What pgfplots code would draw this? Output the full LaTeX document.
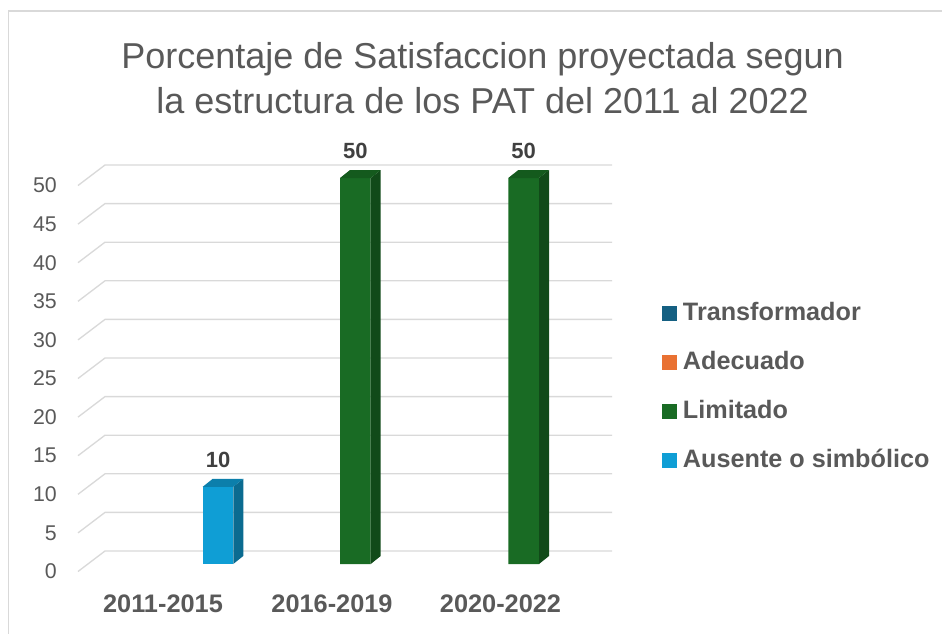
\documentclass[border=0pt]{standalone}
\usepackage{fontspec}
\setmainfont{Liberation Sans}
\usepackage{pgfplots}
\pgfplotsset{compat=1.18}
\definecolor{txt}{HTML}{595959}
\definecolor{lbl}{HTML}{404040}
\definecolor{gridc}{HTML}{D9D9D9}
\definecolor{cTrans}{HTML}{156082}
\definecolor{cAdec}{HTML}{E97132}
\definecolor{cLim}{HTML}{196B24}
\definecolor{cLimS}{HTML}{114A19}
\definecolor{cLimT}{HTML}{145A1D}
\definecolor{cAus}{HTML}{0F9ED5}
\definecolor{cAusS}{HTML}{0B6B90}
\definecolor{cAusT}{HTML}{0C7FAB}
\pgfplotsset{sqleg/.style={legend image code/.code={\fill[#1] (0pt,-5.025pt) rectangle (11.25pt,6.225pt);}}}
\begin{document}
\begin{tikzpicture}
\path[use as bounding box] (0,0) rectangle (706.5pt,474.75pt);
\draw[gridc, line width=0.8pt] (6.2pt,-2pt) -- (6.2pt,466.5pt) -- (712pt,466.5pt);
\begin{axis}[
  at={(42.75pt,46.125pt)}, anchor=south west,
  scale only axis, width=663.75pt, height=428.625pt,
  xmin=57, xmax=942, ymin=-0.9715, ymax=73.057,
  clip=false,
  axis line style={draw=none},
  major tick length=0pt,
  xtick={163,332,500.5},
  xticklabels={2011-2015,2016-2019,2020-2022},
  x tick label style={font=\fontsize{19}{22}\selectfont\bfseries, text=txt, anchor=north, inner sep=0pt, yshift=-17.6pt},
  ytick={0,5,...,50},
  y tick label style={font=\fontsize{16}{18}\selectfont, text=txt, anchor=east, inner sep=0pt, yshift=-5.625pt},
  /pgf/number format/assume math mode=true,
  title={Porcentaje de Satisfaccion proyectada segun\\la estructura de los PAT del 2011 al 2022},
  title style={at={(0.4808,0.9125)}, anchor=north, align=center, font=\fontsize{27}{34}\selectfont, text=txt, inner sep=0pt},
  legend style={at={(0.6833,0.4699)}, anchor=north west, draw=none, fill=none, inner sep=0pt, outer sep=0pt, row sep=19.8pt, font=\fontsize{18.9}{22}\selectfont\bfseries, text=txt, nodes={inner sep=0pt, text height=13pt, text depth=4pt}, /tikz/every odd column/.style={column sep=4.7pt}},
  legend cell align=left,
]
% gridlines (3D floor/back wall)
\pgfplotsinvokeforeach{0,5,...,50}{
  \draw[gridc, line width=1pt] (axis cs:78,#1-0.9715) -- (axis cs:105,#1+1.684) -- (axis cs:612,#1+1.684);
}
% series (zero-valued series are not drawn, as in the reference)
\addplot[ybar, bar width=22.95pt, bar shift=-34.99pt, fill=none, draw=none, sqleg=cTrans] coordinates {(171.35,0) (339.75,0) (508.15,0)};
\addlegendentry{Transformador}
\addplot[ybar, bar width=22.95pt, bar shift=-11.66pt, fill=none, draw=none, sqleg=cAdec] coordinates {(171.35,0) (339.75,0) (508.15,0)};
\addlegendentry{Adecuado}
\addplot[ybar, bar width=22.95pt, bar shift=11.66pt, fill=cLim, draw=none, sqleg=cLim,
  nodes near coords, nodes near coords style={anchor=center, xshift=11.66pt, yshift=20pt, font=\fontsize{16.5}{20}\selectfont\bfseries, text=lbl, inner sep=0pt},
  ] coordinates {(339.75,50) (508.15,50)};
\addlegendentry{Limitado}
\addplot[ybar, bar width=22.95pt, bar shift=34.99pt, fill=cAus, draw=none, sqleg=cAus,
  nodes near coords, nodes near coords style={anchor=center, xshift=34.99pt, yshift=20pt, font=\fontsize{16.5}{20}\selectfont\bfseries, text=lbl, inner sep=0pt},
  ] coordinates {(171.35,10)};
\addlegendentry{Ausente o simbólico}
% 3D side and top faces
\addplot[fill=cAusS, draw=none, forget plot] coordinates {(233.3,0) (243.3,1.036) (243.3,11.036) (233.3,10)} -- cycle;
\addplot[fill=cAusT, draw=none, forget plot] coordinates {(202.7,10) (212.7,11.036) (243.3,11.036) (233.3,10)} -- cycle;
\addplot[fill=cLimS, draw=none, forget plot] coordinates {(370.7,0) (380.7,1.036) (380.7,51.036) (370.7,50)} -- cycle;
\addplot[fill=cLimT, draw=none, forget plot] coordinates {(340,50) (350,51.036) (380.7,51.036) (370.7,50)} -- cycle;
\addplot[fill=cLimS, draw=none, forget plot] coordinates {(539,0) (549,1.036) (549,51.036) (539,50)} -- cycle;
\addplot[fill=cLimT, draw=none, forget plot] coordinates {(508.3,50) (518.3,51.036) (549,51.036) (539,50)} -- cycle;
\end{axis}
\end{tikzpicture}
\end{document}
